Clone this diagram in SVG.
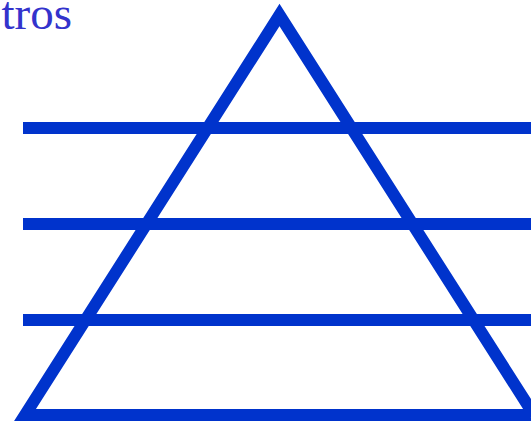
<svg xmlns="http://www.w3.org/2000/svg" width="531" height="422" viewBox="0 0 531 422">
  <style>
    .ln { stroke: #0033cc; stroke-width: 12; fill: none; }
    .lbl { font-family: "Liberation Serif", "Times New Roman", serif; font-size: 47px; fill: #3333cc; }
  </style>
  <rect width="531" height="422" fill="#ffffff"/>
  <g id="title">
    <text class="lbl" x="72" y="29" text-anchor="end">tros</text>
  </g>
  <g id="triangle">
    <polygon class="ln" points="279.5,15 25,415 534,415" stroke-miterlimit="10"/>
  </g>
  <g id="levels">
    <line class="ln" x1="23" y1="128" x2="531" y2="128"/>
    <line class="ln" x1="23" y1="224" x2="531" y2="224"/>
    <line class="ln" x1="23" y1="320" x2="531" y2="320"/>
  </g>
</svg>
